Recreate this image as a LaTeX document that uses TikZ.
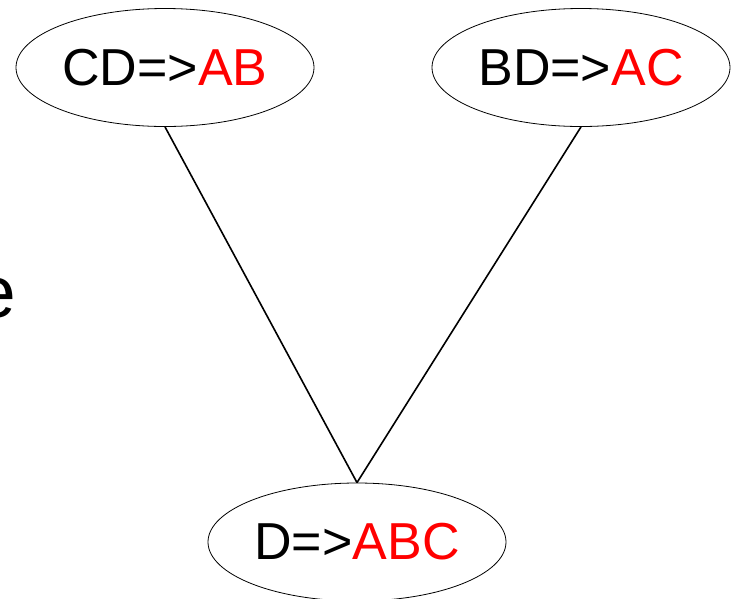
\documentclass[tikz,border=0pt]{standalone}
\usepackage{fontspec}
\setmainfont{Liberation Sans}
\usetikzlibrary{shapes.geometric,positioning}
\definecolor{ruleRed}{HTML}{FF0000}
\definecolor{ruleInk}{HTML}{000000}
\tikzset{
  rule/.style={ellipse, draw=ruleInk, line width=0.8pt, minimum width=298pt, minimum height=118pt, inner sep=0pt, font=\fontsize{52}{58}\selectfont},
  link/.style={line width=1.6pt, draw=ruleInk},
}
\begin{document}
\begin{tikzpicture}[x=1pt, y=-1pt]
        \useasboundingbox (0,0) rectangle (734,598);
        \clip (0,0) rectangle (734,598);
        % rules
        \node[rule] (cdab) at (165,67.5) {CD=>\textcolor{ruleRed}{AB}};
        \node[rule] (bdac) at (581,67.5) {BD=>\textcolor{ruleRed}{AC}};
        \node[rule] (dabc) at (357,542) {D=>\textcolor{ruleRed}{ABC}};
        % cut-off word at the left edge
        \node[anchor=base east, inner sep=0pt, font=\fontsize{73}{80}\selectfont] (cut) at (16,317) {e};
        % links
        \draw[link] (cdab.south) -- (dabc.north);
        \draw[link] (bdac.south) -- (dabc.north);
    \end{tikzpicture}
\end{document}
